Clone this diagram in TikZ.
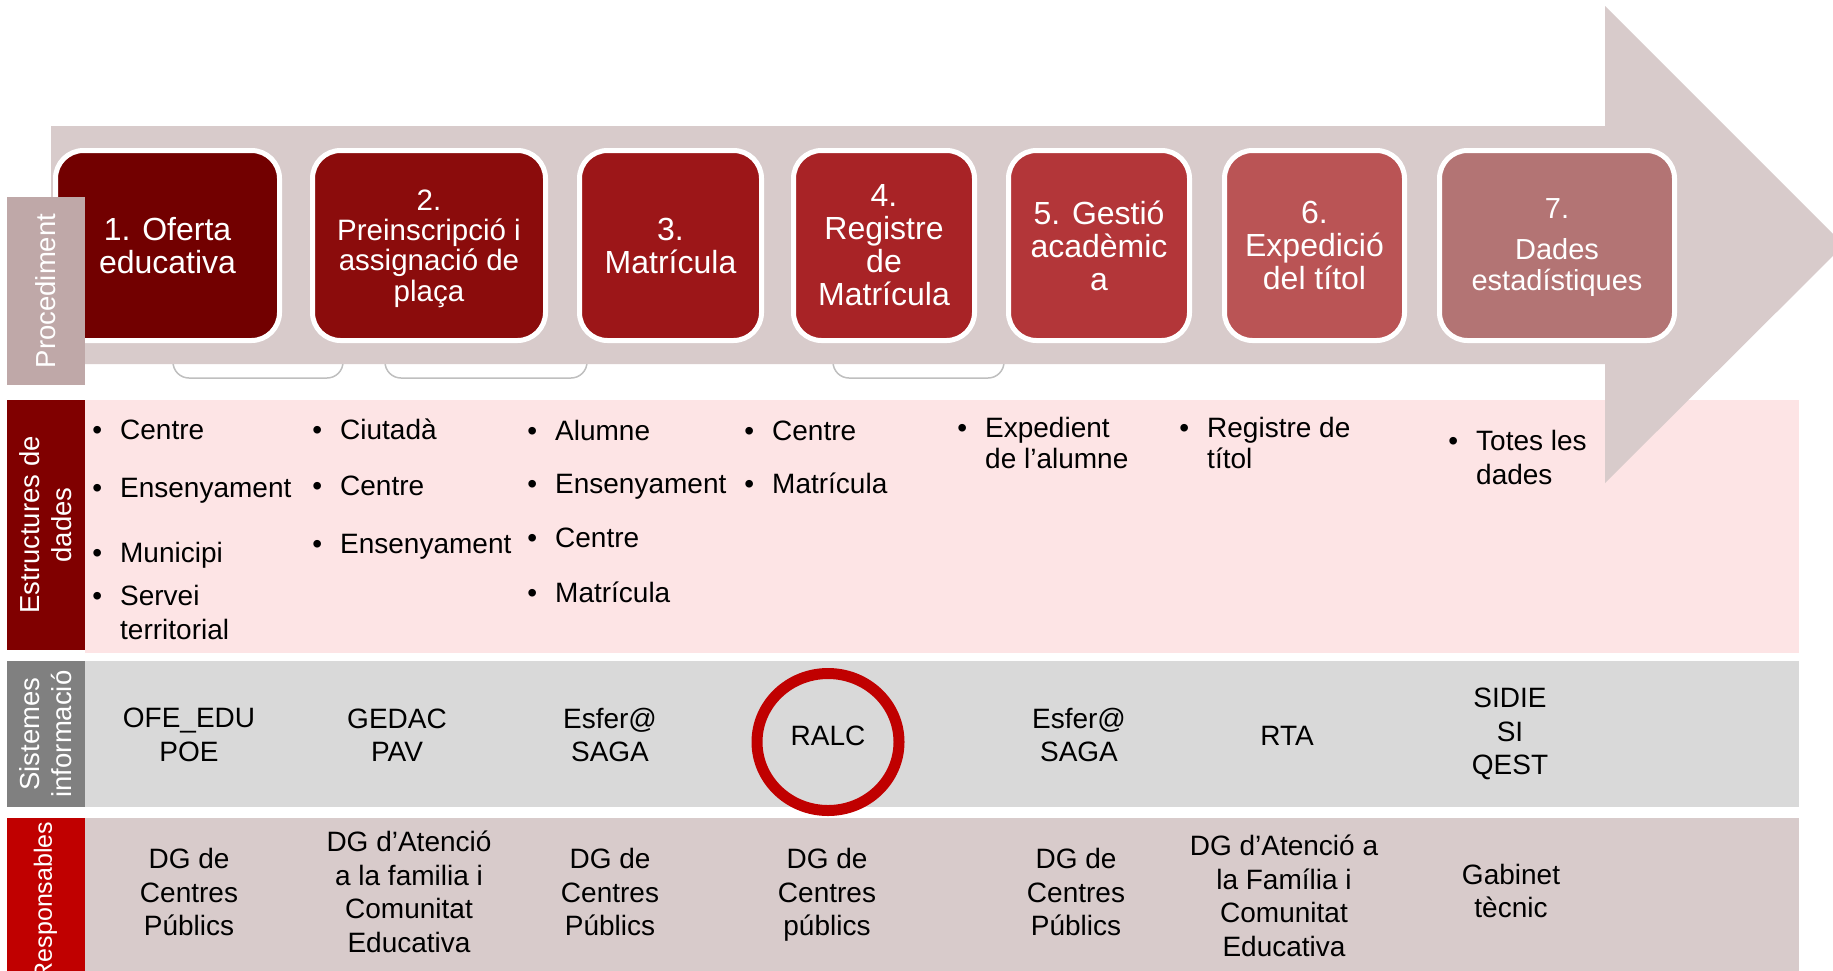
\documentclass[tikz,border=0pt]{standalone}
\usepackage{fontspec}
\setmainfont{Liberation Sans}
\usepackage{tikz}

\definecolor{arrowc}{RGB}{216,203,203}
\definecolor{stepa}{RGB}{114,0,0}
\definecolor{stepb}{RGB}{139,12,12}
\definecolor{stepc}{RGB}{156,22,24}
\definecolor{stepd}{RGB}{168,35,38}
\definecolor{stepe}{RGB}{179,54,57}
\definecolor{stepf}{RGB}{186,84,85}
\definecolor{stepg}{RGB}{179,116,116}
\definecolor{hdproc}{RGB}{191,168,168}
\definecolor{hdestr}{RGB}{128,0,0}
\definecolor{hdsis}{RGB}{128,128,128}
\definecolor{hdresp}{RGB}{192,0,0}
\definecolor{pinkrow}{RGB}{253,228,229}
\definecolor{greyrow}{RGB}{217,217,217}
\definecolor{tabline}{RGB}{191,191,191}

\begin{document}
\begin{tikzpicture}[x=1pt,y=-1pt,
  stepbox/.style={draw=white, line width=5pt, rounded corners=28pt, minimum height=190pt,
    text=white, align=center, inner sep=0pt, font=\fontsize{32}{33}\selectfont},
  steptext/.style={text=white, align=center, inner sep=0pt},
  hdbox/.style={rotate=90, text=white, align=center, inner sep=0pt, minimum height=78pt,
    font=\fontsize{27.5}{32}\selectfont},
  txt/.style={inner sep=0pt, font=\fontsize{28}{33.5}\selectfont},
  item/.style={txt, anchor=base west, execute at begin node={\llap{\textbullet\hspace{18pt}}}},
  cont/.style={txt, anchor=base west},
  ctxt/.style={txt, align=center},
  tab/.style={draw=tabline, fill=white, line width=1.5pt, rounded corners=16pt},
  ring/.style={draw=hdresp, line width=11pt}]

\useasboundingbox (0,0) rectangle (1833,970);
\clip (0,0) rectangle (1833,970);

% Row backgrounds
\fill[pinkrow] (85,400) rectangle (1799,653);
\fill[greyrow] (85,661) rectangle (1799,807);
\fill[arrowc] (85,818) rectangle (1799,1000);

% Tabs half hidden under the arrow
\draw[tab] (173,320) rectangle (343,378);
\draw[tab] (385,320) rectangle (587,378);
\draw[tab] (833,320) rectangle (1004,378);

% Big arrow
\fill[arrowc] (51,126) -- (1605,126) -- (1605,6) -- (1844,245) -- (1605,483)
  -- (1605,364) -- (51,364) -- cycle;

% Steps of the procedure
\node[stepbox, fill=stepa, minimum width=224pt] (s1) at (167.5,245.5) {1. Oferta\\educativa};
\node[stepbox, fill=stepb, minimum width=233pt] (s2) at (429,245.5) {};
\node[steptext, font=\fontsize{29.5}{30.4}\selectfont] (t2) at ([yshift=-3pt]s2.center)
  {2.\\Preinscripció i\\assignació de\\plaça};
\node[stepbox, fill=stepc, minimum width=182pt] (s3) at (670.5,245.5) {3.\\Matrícula};
\node[stepbox, fill=stepd, minimum width=181pt] (s4) at (884,245.5) {4.\\Registre\\de\\Matrícula};
\node[stepbox, fill=stepe, minimum width=181pt] (s5) at (1099,245.5) {5. Gestió\\acadèmic\\a};
\node[stepbox, fill=stepf, minimum width=180pt] (s6) at (1314.5,245.5) {6.\\Expedició\\del títol};
\node[stepbox, fill=stepg, minimum width=235pt] (s7) at (1557,245.5) {};
\node[steptext, font=\fontsize{29}{31.5}\selectfont] (t7) at ([yshift=-2.5pt]s7.center)
  {7.\\[9pt]Dades\\estadístiques};

% Row headers
\node[hdbox, fill=hdproc, minimum width=188pt] (hproc) at (46,291) {Procediment};
\node[hdbox, fill=hdestr, minimum width=250pt] (hestr) at (45.5,525) {Estructures de\\dades};
\node[hdbox, fill=hdsis, minimum width=146pt] (hsis) at (45.5,734) {Sistemes\\informació};
\node[hdbox, fill=hdresp, minimum width=166pt, font=\fontsize{25}{30}\selectfont] (hresp) at (45.5,901)
  {Responsables};

% Data structures
\node[item] (e1a) at (120,439) {Centre};
\node[item] (e1b) at (120,497) {Ensenyament};
\node[item] (e1c) at (120,562) {Municipi};
\node[item] (e1d) at (120,605) {Servei};
\node[cont] (e1e) at (120,639) {territorial};

\node[item] (e2a) at (340,439) {Ciutadà};
\node[item] (e2b) at (340,495) {Centre};
\node[item] (e2c) at (340,553) {Ensenyament};

\node[item] (e3a) at (555,440) {Alumne};
\node[item] (e3b) at (555,493) {Ensenyament};
\node[item] (e3c) at (555,547) {Centre};
\node[item] (e3d) at (555,602) {Matrícula};

\node[item] (e4a) at (772,440) {Centre};
\node[item] (e4b) at (772,493) {Matrícula};

\node[item] (e5a) at (985,437) {Expedient};
\node[cont] (e5b) at (985,468) {de l’alumne};

\node[item] (e6a) at (1207,437) {Registre de};
\node[cont] (e6b) at (1207,468) {títol};

\node[item] (e7a) at (1476,450) {Totes les};
\node[cont] (e7b) at (1476,484) {dades};

% Information systems
\node[ctxt] (si1) at (189,735) {OFE\_EDU\\POE};
\node[ctxt] (si2) at (397,735) {GEDAC\\PAV};
\node[ctxt] (si3) at (610,735) {Esfer@\\SAGA};
\node[ctxt] (si4) at (828,736) {RALC};
\node[ctxt] (si5) at (1079,735) {Esfer@\\SAGA};
\node[ctxt] (si6) at (1287,736) {RTA};
\node[ctxt] (si7) at (1510,734) {SIDIE\\SI\\QEST};

\draw[ring] ([yshift=-6pt]si4.center) ellipse [x radius=71pt, y radius=68.5pt];

% Responsible units
\node[ctxt] (r1) at (189,892) {DG de\\Centres\\Públics};
\node[ctxt] (r2) at (409,892) {DG d’Atenció\\a la familia i\\Comunitat\\Educativa};
\node[ctxt] (r3) at (610,892) {DG de\\Centres\\Públics};
\node[ctxt] (r4) at (827,895) {DG de\\Centres\\públics};
\node[ctxt] (r5) at (1076,892) {DG de\\Centres\\Públics};
\node[ctxt] (r6) at (1284,896) {DG d’Atenció a\\la Família i\\Comunitat\\Educativa};
\node[ctxt] (r7) at (1511,891) {Gabinet\\tècnic};

\end{tikzpicture}
\end{document}
